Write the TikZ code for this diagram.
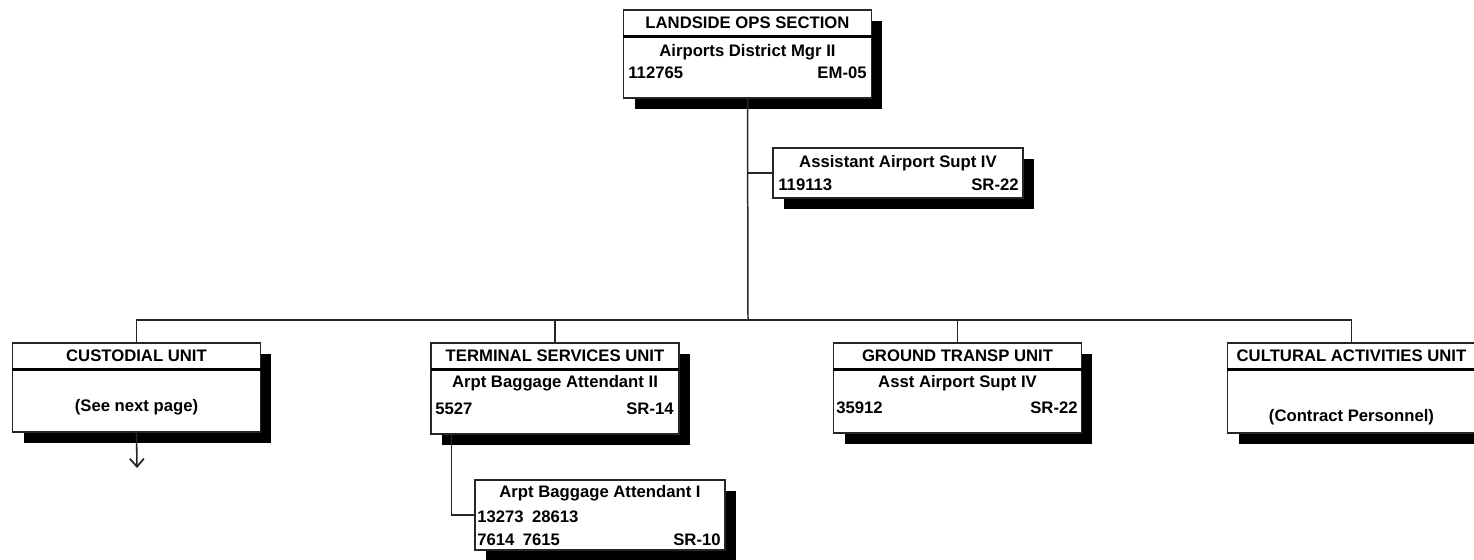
\documentclass[tikz,border=0pt]{standalone}
\usepackage{fontspec}
\setmainfont{Liberation Sans}
\usetikzlibrary{positioning, arrows.meta, shadows, calc}

\begin{document}
\begin{tikzpicture}[
  x=0.02cm, y=-0.02cm,
  font=\fontsize{9.5}{11}\selectfont\bfseries, >=Stealth,
  box/.style ={draw=black!85, line width=0.7pt, fill=white, inner sep=0pt, minimum width=4.96cm, minimum height=#1,
               drop shadow={shadow xshift=0.22cm, shadow yshift=-0.22cm, fill=black, opacity=1}},
  head/.style={inner sep=0pt, minimum width=4.96cm, minimum height=0.53cm, anchor=north},
  sep/.style ={line width=1.5pt, draw=black},
  job/.style ={inner sep=0pt},
  num/.style ={inner sep=0pt},
  link/.style={line width=0.85pt, draw=black!85},
  more/.style={-{Straight Barb[length=1.6mm, width=2.8mm, line width=1pt]}, line width=0.9pt, draw=black!85},
]
\useasboundingbox (0,0) rectangle (1474,559);

% ---------- section head ----------
\node[box=1.76cm] (top) at (747.5,54) {};
\node[head] (topT) at (top.north) {LANDSIDE OPS SECTION};
\draw[sep] (topT.south west) -- (topT.south east);
\node[job] (topJob) at (747.5,52) {Airports District Mgr II};
\node[num, anchor=west] (topId) at (628,73) {112765};
\node[num, anchor=east] (topGr) at (867,73) {EM-05};

% ---------- assistant ----------
\node[box=1.0cm, minimum width=5.0cm] (asst) at (898,173) {};
\node[job] (asstJob) at (898,163) {Assistant Airport Supt IV};
\node[num, anchor=west] (asstId) at (778,185) {119113};
\node[num, anchor=east] (asstGr) at (1019,185) {SR-22};

% ---------- units ----------
\node[box=1.78cm] (cust) at (136.5,387.5) {};
\node[head] (custT) at (cust.north) {CUSTODIAL UNIT};
\draw[sep] (custT.south west) -- (custT.south east);
\node[job] (custNote) at (136.5,407) {(See next page)};

\node[box=1.82cm] (term) at (555,388.5) {};
\node[head] (termT) at (term.north) {TERMINAL SERVICES UNIT};
\draw[sep] (termT.south west) -- (termT.south east);
\node[job] (termJob) at (555,383) {Arpt Baggage Attendant II};
\node[num, anchor=west] (termId) at (435,409) {5527};
\node[num, anchor=east] (termGr) at (674,409) {SR-14};

\node[box=1.8cm] (grnd) at (957.5,388) {};
\node[head] (grndT) at (grnd.north) {GROUND TRANSP UNIT};
\draw[sep] (grndT.south west) -- (grndT.south east);
\node[job] (grndJob) at (957.5,383) {Asst Airport Supt IV};
\node[num, anchor=west] (grndId) at (836,408) {35912};
\node[num, anchor=east] (grndGr) at (1078,408) {SR-22};

\node[box=1.8cm] (cult) at (1351.5,388) {};
\node[head] (cultT) at (cult.north) {CULTURAL ACTIVITIES UNIT};
\draw[sep] (cultT.south west) -- (cultT.south east);
\node[job] (cultNote) at (1351.5,417) {(Contract Personnel)};

% ---------- baggage attendants ----------
\node[box=1.4cm, minimum width=5.0cm] (bag) at (600,515) {};
\node[job] (bagJob) at (600,493) {Arpt Baggage Attendant I};
\node[num, anchor=west] (bagIdA) at (477,517) {13273\enspace 28613};
\node[num, anchor=west] (bagIdB) at (477,540) {7614\enspace 7615};
\node[num, anchor=east] (bagGr) at (721,540) {SR-10};

% ---------- lines ----------
\coordinate (hub) at (748,320);
\coordinate (next) at (137,468);
\draw[link] (top.south) -- (hub);
\draw[link] (asst.west) -- (asst.west -| hub);
\draw[link] (cust.north) |- (cult.north |- hub) -- (cult.north);
\draw[link] (term.north) -- (term.north |- hub);
\draw[link] (grnd.north) -- (grnd.north |- hub);
\draw[link] ($(term.south west)+(21,0)$) |- (bag.west);
\draw[more] (cust.south) -- (next);

\end{tikzpicture}
\end{document}
